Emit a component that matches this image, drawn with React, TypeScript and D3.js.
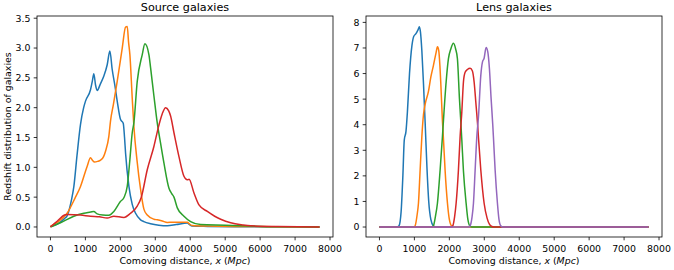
import { useEffect, useRef } from "react";
import * as d3 from "d3";

type Pt = [number, number];

// x ticks (Mpc), shared by both panels
const xTicks = [0, 1000, 2000, 3000, 4000, 5000, 6000, 7000, 8000];
const sourceYTicks = [0, 0.5, 1, 1.5, 2, 2.5, 3, 3.5];
const lensYTicks = [0, 1, 2, 3, 4, 5, 6, 7, 8];
const colors = ["#1f77b4", "#ff7f0e", "#2ca02c", "#d62728", "#9467bd"];

// source galaxies
const sourceBlue: Pt[] = [
  [0, 0.01], [200, 0.05], [400, 0.14], [480, 0.19], [600, 0.45], [670, 0.68],
  [760, 1.2], [860, 1.72], [950, 2.0], [1003, 2.11], [1146, 2.3], [1200, 2.45],
  [1241, 2.57], [1290, 2.38], [1337, 2.29], [1430, 2.4], [1528, 2.53], [1624, 2.72],
  [1700, 2.95], [1767, 2.64], [1850, 2.35], [1910, 2.11], [2006, 1.8], [2082, 1.74],
  [2120, 1.5], [2149, 1.24], [2245, 0.68], [2340, 0.38], [2436, 0.23], [2579, 0.12],
  [2674, 0.09], [2865, 0.055], [3100, 0.03], [3343, 0.02], [3600, 0.04], [3917, 0.065],
  [3980, 0.04], [4050, 0.015], [4500, 0.01], [5500, 0.005], [6500, 0.002], [7700, 0],
];
const sourceOrange: Pt[] = [
  [0, 0.01], [200, 0.08], [477, 0.23], [700, 0.48], [860, 0.68], [1051, 1.02],
  [1146, 1.16], [1200, 1.12], [1261, 1.09], [1350, 1.1], [1433, 1.12], [1520, 1.18],
  [1576, 1.27], [1671, 1.52], [1719, 1.78], [1800, 2.05], [1910, 2.44], [2054, 3.0],
  [2149, 3.35], [2197, 3.36], [2235, 3.1], [2273, 2.89], [2340, 2.16], [2388, 1.68],
  [2480, 1.1], [2579, 0.63], [2674, 0.3], [2770, 0.2], [2960, 0.13], [3057, 0.12],
  [3200, 0.1], [3343, 0.075], [3500, 0.08], [3917, 0.08], [3980, 0.05], [4050, 0.025],
  [4500, 0.015], [5500, 0.008], [6500, 0.003], [7700, 0],
];
const sourceGreen: Pt[] = [
  [0, 0], [287, 0.07], [668, 0.18], [955, 0.23], [1150, 0.25], [1241, 0.26],
  [1337, 0.22], [1500, 0.2], [1671, 0.195], [1814, 0.26], [2006, 0.43], [2101, 0.49],
  [2197, 0.68], [2273, 1.13], [2340, 1.58], [2388, 1.75], [2483, 2.44], [2627, 2.89],
  [2703, 3.07], [2817, 2.89], [2865, 2.67], [2960, 2.2], [3057, 1.74], [3152, 1.4],
  [3248, 1.07], [3391, 0.65], [3470, 0.56], [3534, 0.5], [3630, 0.32], [3820, 0.18],
  [4011, 0.09], [4298, 0.04], [5000, 0.03], [6000, 0.01], [7000, 0.002], [7700, 0],
];
const sourceRed: Pt[] = [
  [0, 0], [200, 0.1], [400, 0.2], [477, 0.21], [860, 0.2], [1146, 0.18],
  [1400, 0.17], [1624, 0.15], [1814, 0.18], [2101, 0.16], [2292, 0.23], [2483, 0.35],
  [2600, 0.5], [2770, 0.96], [2960, 1.35], [3100, 1.7], [3200, 1.9], [3295, 2.0],
  [3380, 1.95], [3438, 1.86], [3534, 1.58], [3677, 1.18], [3820, 0.85], [3917, 0.79],
  [3966, 0.8], [4107, 0.57], [4250, 0.37], [4489, 0.26], [4700, 0.18], [4871, 0.13],
  [5158, 0.07], [5500, 0.035], [5731, 0.02], [6500, 0.008], [7700, 0],
];

// lens galaxies
const lensBlue: Pt[] = [
  [0, 0], [500, 0], [560, 0.05], [620, 0.6], [670, 2.0], [710, 3.4], [760, 3.75],
  [800, 4.5], [860, 6.0], [930, 7.1], [980, 7.45], [1040, 7.55], [1100, 7.7],
  [1144, 7.83], [1175, 7.6], [1213, 6.9], [1260, 5.6], [1310, 4.0], [1360, 2.3],
  [1410, 1.0], [1470, 0.3], [1540, 0.05], [1600, 0], [7700, 0],
];
const lensOrange: Pt[] = [
  [0, 0], [980, 0], [1021, 0.05], [1080, 0.5], [1116, 0.93], [1164, 2.23],
  [1213, 3.53], [1260, 4.4], [1307, 4.8], [1402, 5.3], [1470, 5.86], [1545, 6.32],
  [1622, 6.83], [1659, 7.05], [1697, 6.9], [1730, 6.3], [1756, 5.6], [1800, 4.2],
  [1833, 3.4], [1879, 2.2], [1946, 0.93], [2000, 0.3], [2070, 0.03], [2120, 0], [7700, 0],
];
const lensGreen: Pt[] = [
  [0, 0], [1500, 0], [1545, 0.05], [1600, 0.4], [1659, 0.93], [1736, 2.23],
  [1802, 3.53], [1833, 4.2], [1908, 5.67], [1974, 6.58], [2042, 6.96], [2117, 7.18],
  [2180, 6.96], [2231, 6.58], [2289, 5.02], [2320, 4.3], [2357, 3.4], [2403, 2.2],
  [2480, 0.93], [2530, 0.3], [2594, 0.03], [2650, 0], [7700, 0],
];
const lensRed: Pt[] = [
  [0, 0], [2050, 0], [2098, 0.05], [2150, 0.4], [2194, 0.93], [2260, 2.23],
  [2308, 3.53], [2357, 4.5], [2403, 5.67], [2451, 6.05], [2517, 6.16], [2594, 6.21],
  [2660, 6.1], [2709, 5.67], [2757, 4.89], [2814, 3.9], [2833, 3.5], [2900, 2.23],
  [2995, 0.93], [3080, 0.35], [3150, 0.1], [3215, 0.02], [3280, 0], [7700, 0],
];
const lensPurple: Pt[] = [
  [0, 0], [2550, 0], [2594, 0.05], [2650, 0.4], [2690, 0.93], [2738, 2.23],
  [2786, 3.53], [2833, 4.3], [2900, 5.93], [2947, 6.45], [2995, 6.6], [3052, 7.02],
  [3100, 6.85], [3147, 6.19], [3195, 5.02], [3243, 3.98], [3262, 3.5], [3310, 2.23],
  [3376, 0.93], [3420, 0.3], [3470, 0.05], [3530, 0], [7700, 0],
];

const FONT = "DejaVu Sans, sans-serif";
const FS = "9.4px";

function App() {
  const ref = useRef<SVGSVGElement>(null);

  useEffect(() => {
    if (!ref.current) return;
    const svg = d3.select(ref.current);
    svg.selectAll("*").remove();

    const top = 16;
    const bottom = 237;

    const panel = (
      left: number,
      right: number,
      yDomain: [number, number],
      yTicks: number[],
      fmt: (v: number) => string,
      series: Pt[][],
      title: string
    ) => {
      const x = d3.scaleLinear().domain([-385, 8085]).range([left, right]);
      const y = d3.scaleLinear().domain(yDomain).range([bottom, top]);
      const g = svg.append("g");

      const line = d3
        .line<Pt>()
        .x((d) => x(d[0]))
        .y((d) => y(d[1]))
        .curve(d3.curveMonotoneX);

      series.forEach((s, i) => {
        g.append("path")
          .datum(s)
          .attr("d", line)
          .attr("fill", "none")
          .attr("stroke", colors[i])
          .attr("stroke-width", 1.5)
          .attr("stroke-linejoin", "round");
      });

      // frame
      g.append("rect")
        .attr("x", left)
        .attr("y", top)
        .attr("width", right - left)
        .attr("height", bottom - top)
        .attr("fill", "none")
        .attr("stroke", "#000")
        .attr("stroke-width", 0.8);

      // x ticks
      xTicks.forEach((t) => {
        g.append("line")
          .attr("x1", x(t))
          .attr("x2", x(t))
          .attr("y1", bottom)
          .attr("y2", bottom + 3.3)
          .attr("stroke", "#000")
          .attr("stroke-width", 0.8);
        g.append("text")
          .attr("x", x(t))
          .attr("y", bottom + 14.5)
          .attr("text-anchor", "middle")
          .style("font-family", FONT)
          .style("font-size", FS)
          .style("fill", "#000")
          .text(String(t));
      });

      // y ticks
      yTicks.forEach((t) => {
        g.append("line")
          .attr("x1", left - 3.3)
          .attr("x2", left)
          .attr("y1", y(t))
          .attr("y2", y(t))
          .attr("stroke", "#000")
          .attr("stroke-width", 0.8);
        g.append("text")
          .attr("x", left - 6.5)
          .attr("y", y(t))
          .attr("dy", "0.36em")
          .attr("text-anchor", "end")
          .style("font-family", FONT)
          .style("font-size", FS)
          .style("fill", "#000")
          .text(fmt(t));
      });

      // title
      g.append("text")
        .attr("x", (left + right) / 2)
        .attr("y", 11)
        .attr("text-anchor", "middle")
        .style("font-family", FONT)
        .style("font-size", "11.2px")
        .style("fill", "#000")
        .text(title);

      // x label
      const xl = g
        .append("text")
        .attr("x", (left + right) / 2)
        .attr("y", 264)
        .attr("text-anchor", "middle")
        .style("font-family", FONT)
        .style("font-size", FS)
        .style("fill", "#000");
      xl.append("tspan").text("Comoving distance, ");
      xl.append("tspan").style("font-style", "italic").text("x");
      xl.append("tspan").text(" (");
      xl.append("tspan").style("font-style", "italic").text("Mpc");
      xl.append("tspan").text(")");
    };

    panel(
      37,
      333,
      [-0.168, 3.537],
      sourceYTicks,
      d3.format(".1f"),
      [sourceBlue, sourceOrange, sourceGreen, sourceRed],
      "Source galaxies"
    );
    panel(
      366,
      662,
      [-0.39, 8.25],
      lensYTicks,
      d3.format("d"),
      [lensBlue, lensOrange, lensGreen, lensRed, lensPurple],
      "Lens galaxies"
    );

    // y label of the left panel
    svg
      .append("text")
      .attr("transform", `translate(11,${(top + bottom) / 2}) rotate(-90)`)
      .attr("text-anchor", "middle")
      .style("font-family", FONT)
      .style("font-size", FS)
      .style("fill", "#000")
      .text("Redshift distribution of galaxies");
  }, []);

  return (
    <svg
      ref={ref}
      width={674}
      height={270}
      style={{ position: "absolute", left: 0, top: 0, background: "#fff" }}
    />
  );
}

export default App;
